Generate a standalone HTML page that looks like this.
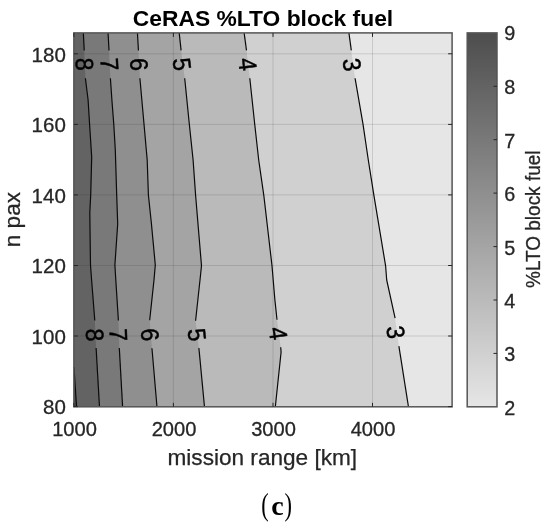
<!DOCTYPE html>
<html><head><meta charset="utf-8"><title>CeRAS %LTO block fuel</title>
<style>
html,body{margin:0;padding:0;background:#fff}
svg{display:block}
text{font-family:"Liberation Sans",Arial,Helvetica,sans-serif;fill:#262626}
.tk{font-size:19.8px;stroke:#262626;stroke-width:0.3px}
.lb{font-size:22px;stroke:#262626;stroke-width:0.25px}
.ti{font-size:22px;font-weight:bold;fill:#000}
.cl{font-size:23px;fill:#000;stroke:#000;stroke-width:0.45px}
.cap{font-family:"Liberation Serif","Times New Roman",serif;font-size:28px;fill:#000}
</style></head><body>
<svg width="550" height="530" viewBox="0 0 550 530">
<defs><linearGradient id="cb" x1="0" y1="0" x2="0" y2="1"><stop offset="0" stop-color="#4d4d4d"/><stop offset="1" stop-color="#e6e6e6"/></linearGradient>
<clipPath id="pc"><rect x="73.9" y="32.9" width="378.2" height="373.9"/></clipPath></defs>
<rect width="550" height="530" fill="#fff"/>

<g clip-path="url(#pc)">
<rect x="73.9" y="32.9" width="378.2" height="373.9" fill="#e6e6e6"/>
<polygon points="72.9,31.9 348.8,31.9 348.8,32.0 351.3,50.4 355.1,78.3 363.0,124.1 368.3,160.0 373.9,195.3 385.6,265.8 386.7,280.0 395.1,318.2 398.9,346.2 408.5,407.0 408.5,407.8 72.9,407.8" fill="#d0d0d0"/>
<polygon points="72.9,31.9 244.0,31.9 244.0,32.0 246.5,50.4 249.8,78.3 254.7,124.0 258.7,160.0 263.8,195.3 272.0,265.8 273.2,280.0 274.9,300.0 277.0,319.7 280.7,347.3 281.1,352.0 275.3,407.0 275.3,407.8 72.9,407.8" fill="#bababa"/>
<polygon points="72.9,31.9 179.1,31.9 179.1,32.0 181.1,50.4 184.7,78.3 189.3,124.0 193.1,160.0 195.6,195.3 201.5,265.8 200.0,280.0 195.6,320.7 198.9,348.0 204.5,407.0 204.5,407.8 72.9,407.8" fill="#a4a4a4"/>
<polygon points="72.9,31.9 137.4,31.9 137.4,32.0 138.4,50.0 139.9,78.0 144.0,124.0 147.2,160.0 148.4,195.0 151.4,223.5 155.3,265.0 154.0,280.0 149.7,320.0 150.9,336.0 152.1,350.0 157.0,407.0 157.0,407.8 72.9,407.8" fill="#8f8f8f"/>
<polygon points="72.9,31.9 108.0,31.9 108.0,32.0 109.0,50.0 110.4,78.0 111.9,100.0 113.8,124.5 115.3,150.0 116.7,195.0 117.7,224.0 114.9,265.0 115.8,280.0 118.4,320.7 119.3,348.0 122.6,406.8 122.6,407.8 72.9,407.8" fill="#797979"/>
<polygon points="72.9,31.9 83.3,31.9 83.3,32.0 84.2,50.0 85.4,78.0 88.1,100.0 89.6,124.5 91.7,157.0 90.7,195.0 89.8,213.0 90.5,265.0 91.6,280.0 94.8,320.7 96.1,348.0 99.5,406.8 99.5,407.8 72.9,407.8" fill="#636363"/>
<polygon points="72.9,367.0 73.9,367.0 76.6,407.0 76.6,407.8 72.9,407.8" fill="#4d4d4d"/>
<line x1="173.4" y1="32.9" x2="173.4" y2="406.8" stroke="#262626" stroke-opacity="0.15" stroke-width="1"/>
<line x1="273.0" y1="32.9" x2="273.0" y2="406.8" stroke="#262626" stroke-opacity="0.15" stroke-width="1"/>
<line x1="372.5" y1="32.9" x2="372.5" y2="406.8" stroke="#262626" stroke-opacity="0.15" stroke-width="1"/>
<line x1="73.9" y1="336.0" x2="452.1" y2="336.0" stroke="#262626" stroke-opacity="0.15" stroke-width="1"/>
<line x1="73.9" y1="265.5" x2="452.1" y2="265.5" stroke="#262626" stroke-opacity="0.15" stroke-width="1"/>
<line x1="73.9" y1="194.9" x2="452.1" y2="194.9" stroke="#262626" stroke-opacity="0.15" stroke-width="1"/>
<line x1="73.9" y1="124.4" x2="452.1" y2="124.4" stroke="#262626" stroke-opacity="0.15" stroke-width="1"/>
<line x1="73.9" y1="53.8" x2="452.1" y2="53.8" stroke="#262626" stroke-opacity="0.15" stroke-width="1"/>
<polyline points="73.9,367.0 76.6,407.0" fill="none" stroke="#0a0a0a" stroke-width="1.2" stroke-linejoin="round"/>
<polyline points="83.3,32.0 84.2,50.0 84.2,50.4" fill="none" stroke="#0a0a0a" stroke-width="1.2" stroke-linejoin="round"/>
<polyline points="85.4,78.2 88.1,100.0 89.6,124.5 91.7,157.0 90.7,195.0 89.8,213.0 90.5,265.0 91.6,280.0 94.8,320.5" fill="none" stroke="#0a0a0a" stroke-width="1.2" stroke-linejoin="round"/>
<polyline points="96.1,348.0 99.5,406.8" fill="none" stroke="#0a0a0a" stroke-width="1.2" stroke-linejoin="round"/>
<polyline points="108.0,32.0 109.0,50.0 109.0,50.4" fill="none" stroke="#0a0a0a" stroke-width="1.2" stroke-linejoin="round"/>
<polyline points="110.4,78.2 111.9,100.0 113.8,124.5 115.3,150.0 116.7,195.0 117.7,224.0 114.9,265.0 115.8,280.0 118.4,320.5" fill="none" stroke="#0a0a0a" stroke-width="1.2" stroke-linejoin="round"/>
<polyline points="119.3,348.0 122.6,406.8" fill="none" stroke="#0a0a0a" stroke-width="1.2" stroke-linejoin="round"/>
<polyline points="137.4,32.0 138.4,50.0 138.4,50.4" fill="none" stroke="#0a0a0a" stroke-width="1.2" stroke-linejoin="round"/>
<polyline points="139.9,78.2 144.0,124.0 147.2,160.0 148.4,195.0 151.4,223.5 155.3,265.0 154.0,280.0 149.7,320.0 149.7,320.2" fill="none" stroke="#0a0a0a" stroke-width="1.2" stroke-linejoin="round"/>
<polyline points="151.9,348.2 152.1,350.0 157.0,407.0" fill="none" stroke="#0a0a0a" stroke-width="1.2" stroke-linejoin="round"/>
<polyline points="179.1,32.0 181.1,50.4" fill="none" stroke="#0a0a0a" stroke-width="1.2" stroke-linejoin="round"/>
<polyline points="184.7,78.2 184.7,78.3 189.3,124.0 193.1,160.0 195.6,195.3 201.5,265.8 200.0,280.0 195.6,320.7" fill="none" stroke="#0a0a0a" stroke-width="1.2" stroke-linejoin="round"/>
<polyline points="198.9,348.0 204.5,407.0" fill="none" stroke="#0a0a0a" stroke-width="1.2" stroke-linejoin="round"/>
<polyline points="244.0,32.0 246.5,50.4" fill="none" stroke="#0a0a0a" stroke-width="1.2" stroke-linejoin="round"/>
<polyline points="249.8,78.2 249.8,78.3 254.7,124.0 258.7,160.0 263.8,195.3 272.0,265.8 273.2,280.0 274.9,300.0 277.0,319.7" fill="none" stroke="#0a0a0a" stroke-width="1.2" stroke-linejoin="round"/>
<polyline points="280.7,347.3 281.1,352.0 275.3,407.0" fill="none" stroke="#0a0a0a" stroke-width="1.2" stroke-linejoin="round"/>
<polyline points="348.8,32.0 351.3,50.4" fill="none" stroke="#0a0a0a" stroke-width="1.2" stroke-linejoin="round"/>
<polyline points="355.1,78.2 355.1,78.3 363.0,124.1 368.3,160.0 373.9,195.3 385.6,265.8 386.7,280.0 395.1,318.2" fill="none" stroke="#0a0a0a" stroke-width="1.2" stroke-linejoin="round"/>
<polyline points="398.9,346.2 408.5,407.0" fill="none" stroke="#0a0a0a" stroke-width="1.2" stroke-linejoin="round"/>
</g>
<text class="cl" transform="translate(352.2,64.6) rotate(82.2) scale(1,1.09)" text-anchor="middle" y="8.2">3</text>
<text class="cl" transform="translate(396.0,332.2) rotate(82.3) scale(1,1.09)" text-anchor="middle" y="8.2">3</text>
<text class="cl" transform="translate(247.8,64.3) rotate(83.3) scale(1,1.09)" text-anchor="middle" y="8.2">4</text>
<text class="cl" transform="translate(278.4,333.5) rotate(82.4) scale(1,1.09)" text-anchor="middle" y="8.2">4</text>
<text class="cl" transform="translate(182.1,64.3) rotate(82.6) scale(1,1.09)" text-anchor="middle" y="8.2">5</text>
<text class="cl" transform="translate(197.2,334.8) rotate(83.1) scale(1,1.09)" text-anchor="middle" y="8.2">5</text>
<text class="cl" transform="translate(139.2,64.3) rotate(86.9) scale(1,1.09)" text-anchor="middle" y="8.2">6</text>
<text class="cl" transform="translate(150.2,334.7) rotate(85.4) scale(1,1.09)" text-anchor="middle" y="8.2">6</text>
<text class="cl" transform="translate(109.7,64.3) rotate(87.1) scale(1,1.09)" text-anchor="middle" y="8.2">7</text>
<text class="cl" transform="translate(118.6,334.8) rotate(88.1) scale(1,1.09)" text-anchor="middle" y="8.2">7</text>
<text class="cl" transform="translate(84.8,64.3) rotate(87.5) scale(1,1.09)" text-anchor="middle" y="8.2">8</text>
<text class="cl" transform="translate(95.1,334.9) rotate(87.3) scale(1,1.09)" text-anchor="middle" y="8.2">8</text>
<rect x="73.9" y="32.9" width="378.2" height="373.9" fill="none" stroke="#555" stroke-width="1.5"/>
<path d="M73.9 406.8 v-4 M73.9 32.9 v4" stroke="#262626" stroke-width="1" fill="none"/>
<text class="tk" x="52.2" y="435.8" textLength="44.7" lengthAdjust="spacingAndGlyphs">1000</text>
<path d="M173.4 406.8 v-4 M173.4 32.9 v4" stroke="#262626" stroke-width="1" fill="none"/>
<text class="tk" x="151.7" y="435.8" textLength="44.7" lengthAdjust="spacingAndGlyphs">2000</text>
<path d="M273.0 406.8 v-4 M273.0 32.9 v4" stroke="#262626" stroke-width="1" fill="none"/>
<text class="tk" x="251.2" y="435.8" textLength="44.7" lengthAdjust="spacingAndGlyphs">3000</text>
<path d="M372.5 406.8 v-4 M372.5 32.9 v4" stroke="#262626" stroke-width="1" fill="none"/>
<text class="tk" x="350.7" y="435.8" textLength="44.7" lengthAdjust="spacingAndGlyphs">4000</text>
<path d="M73.9 406.6 h4 M452.1 406.6 h-4" stroke="#262626" stroke-width="1" fill="none"/>
<text class="tk" x="43.0" y="414.3" textLength="22.8" lengthAdjust="spacingAndGlyphs">80</text>
<path d="M73.9 336.0 h4 M452.1 336.0 h-4" stroke="#262626" stroke-width="1" fill="none"/>
<text class="tk" x="31.6" y="343.7" textLength="34.2" lengthAdjust="spacingAndGlyphs">100</text>
<path d="M73.9 265.5 h4 M452.1 265.5 h-4" stroke="#262626" stroke-width="1" fill="none"/>
<text class="tk" x="31.6" y="273.2" textLength="34.2" lengthAdjust="spacingAndGlyphs">120</text>
<path d="M73.9 194.9 h4 M452.1 194.9 h-4" stroke="#262626" stroke-width="1" fill="none"/>
<text class="tk" x="31.6" y="202.6" textLength="34.2" lengthAdjust="spacingAndGlyphs">140</text>
<path d="M73.9 124.4 h4 M452.1 124.4 h-4" stroke="#262626" stroke-width="1" fill="none"/>
<text class="tk" x="31.6" y="132.1" textLength="34.2" lengthAdjust="spacingAndGlyphs">160</text>
<path d="M73.9 53.8 h4 M452.1 53.8 h-4" stroke="#262626" stroke-width="1" fill="none"/>
<text class="tk" x="31.6" y="61.5" textLength="34.2" lengthAdjust="spacingAndGlyphs">180</text>
<rect x="467.2" y="32.9" width="29.8" height="373.9" fill="url(#cb)" stroke="#555" stroke-width="1.5"/>
<text class="tk" x="504.3" y="414.7">2</text>
<path d="M497 353.4 h-3.5" stroke="#262626" stroke-width="1" fill="none"/>
<text class="tk" x="504.3" y="361.3">3</text>
<path d="M497 300.0 h-3.5" stroke="#262626" stroke-width="1" fill="none"/>
<text class="tk" x="504.3" y="307.9">4</text>
<path d="M497 246.6 h-3.5" stroke="#262626" stroke-width="1" fill="none"/>
<text class="tk" x="504.3" y="254.5">5</text>
<path d="M497 193.1 h-3.5" stroke="#262626" stroke-width="1" fill="none"/>
<text class="tk" x="504.3" y="201.0">6</text>
<path d="M497 139.7 h-3.5" stroke="#262626" stroke-width="1" fill="none"/>
<text class="tk" x="504.3" y="147.6">7</text>
<path d="M497 86.3 h-3.5" stroke="#262626" stroke-width="1" fill="none"/>
<text class="tk" x="504.3" y="94.2">8</text>
<text class="tk" x="504.3" y="40.2">9</text>
<text class="ti" x="132.8" y="26.2" textLength="260.4" lengthAdjust="spacingAndGlyphs">CeRAS %LTO block fuel</text>
<text class="lb" x="167.5" y="465.2" textLength="189.6" lengthAdjust="spacingAndGlyphs">mission range [km]</text>
<text class="lb" transform="translate(20.4,247.2) rotate(-90)" textLength="55.2" lengthAdjust="spacingAndGlyphs">n pax</text>
<text class="tk" transform="translate(539.7,288) rotate(-90)" textLength="137.5" lengthAdjust="spacingAndGlyphs">%LTO block fuel</text>
<text class="cap" transform="translate(261.2,514.6) scale(0.8,1.11)">(</text>
<text class="cap" x="277.4" y="515.3" text-anchor="middle" font-weight="bold">c</text>
<text class="cap" transform="translate(284.6,514.6) scale(0.8,1.11)">)</text>
</svg></body></html>
